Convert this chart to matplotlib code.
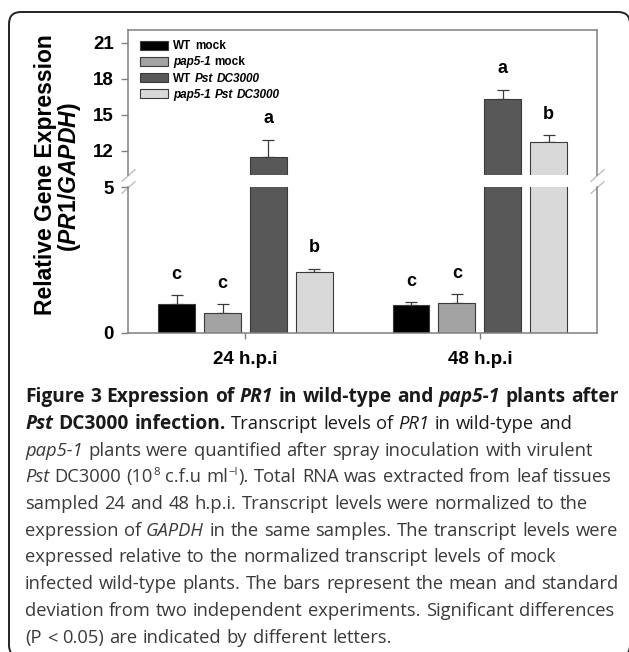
import re
import numpy as np
import matplotlib.pyplot as plt
from matplotlib.patches import FancyBboxPatch, Rectangle
from matplotlib.transforms import IdentityTransform

# data
groups = ['24 h.p.i', '48 h.p.i']
series = ['WT mock', 'pap5-1 mock', 'WT Pst DC3000', 'pap5-1 Pst DC3000']
wt_mock = [1.00, 0.95]
pap_mock = [0.68, 1.03]
wt_pst = [11.48, 16.28]
pap_pst = [2.10, 12.72]
wt_mock_sd = [0.28, 0.09]
pap_mock_sd = [0.30, 0.29]
wt_pst_sd = [1.41, 0.80]
pap_pst_sd = [0.10, 0.58]
letters_24 = ['c', 'c', 'a', 'b']
letters_48 = ['c', 'c', 'a', 'b']
upper_ticks = [12, 15, 18, 21]
lower_ticks = [0, 5]

means = [wt_mock, pap_mock, wt_pst, pap_pst]
sds = [wt_mock_sd, pap_mock_sd, wt_pst_sd, pap_pst_sd]
letters = [letters_24, letters_48]
colors = ['#000000', '#a3a3a3', '#585858', '#d9d9d9']
# legend labels with italic parts
legend_runs = [
    [('WT mock', 'b')],
    [('pap5-1', 'bi'), (' mock', 'b')],
    [('WT ', 'b'), ('Pst DC3000', 'bi')],
    [('pap5-1 Pst DC3000', 'bi')],
]

plt.rcParams['font.family'] = 'Liberation Sans'
plt.rcParams['font.weight'] = 'bold'
plt.rcParams['mathtext.fontset'] = 'custom'
plt.rcParams['mathtext.rm'] = 'Liberation Sans:bold'
plt.rcParams['mathtext.it'] = 'Liberation Sans:italic:bold'

W, H = 629, 652
fig = plt.figure(figsize=(W / 100, H / 100), dpi=100)
PX = IdentityTransform()


def rect(x0, y0, x1, y1):
    # pixel box measured from the top-left -> figure fraction
    return [x0 / W, 1 - y1 / H, (x1 - x0) / W, (y1 - y0) / H]


ax_hi = fig.add_axes(rect(128.3, 30, 597, 174.7))
ax_lo = fig.add_axes(rect(128.3, 187, 597, 332.7))

x = np.arange(len(groups))
pitch, width = 0.196, 0.157
edge = '#3a3a3a'
spine_col = '#808080'

for ax in (ax_hi, ax_lo):
    for i in range(len(series)):
        pos = x + (i - 1.5) * pitch
        ax.bar(pos, means[i], width, color=colors[i], edgecolor=edge,
               linewidth=0.8, zorder=2)
        ax.errorbar(pos, means[i], yerr=[np.zeros(len(x)), sds[i]], fmt='none',
                    ecolor=edge, elinewidth=0.9, capsize=4.5, capthick=0.9,
                    zorder=1)
    ax.set_xlim(-0.5, 1.5)
    for s in ax.spines.values():
        s.set_color(spine_col)
        s.set_linewidth(1.1)
    ax.tick_params(axis='y', direction='out', length=5, width=1,
                   color=spine_col, pad=5.5, labelsize=13.5)

ax_hi.set_ylim(10, 22.05)
ax_hi.set_yticks(upper_ticks)
ax_hi.set_xticks([])
ax_hi.spines['bottom'].set_visible(False)

ax_lo.set_ylim(0, 5)
ax_lo.set_yticks(lower_ticks)
ax_lo.spines['top'].set_visible(False)
ax_lo.set_xticks(x, groups)
ax_lo.tick_params(axis='x', direction='out', length=4, width=1,
                  color=spine_col, pad=9, labelsize=13.5)

# significance letters
for i in range(len(series)):
    for j in range(len(groups)):
        top = means[i][j] + sds[i][j]
        ax = ax_hi if top > ax_lo.get_ylim()[1] else ax_lo
        ax.annotate(letters[j][i], (x[j] + (i - 1.5) * pitch, top),
                    xytext=(0, 9), textcoords='offset points',
                    ha='center', va='bottom', fontsize=13, fontweight='bold')

# axis break marks
brk = dict(marker=[(-1, -0.9), (1, 0.9)], markersize=10, linestyle='none',
           color='#c4c4c4', mec='#c4c4c4', mew=1.1, clip_on=False)
ax_hi.plot([0, 1], [0, 0], transform=ax_hi.transAxes, **brk)
ax_lo.plot([0, 1], [1, 1], transform=ax_lo.transAxes, **brk)

# y label
fig.text(45.5 / W, 1 - 175 / H, 'Relative Gene Expression', rotation=90,
         ha='center', va='center', fontsize=16.5, fontweight='bold')
fig.text(69.5 / W, 1 - 177 / H, r'($\mathit{PR1/GAPDH}$)', rotation=90,
         ha='center', va='center', fontsize=16.5, fontweight='bold')

renderer = fig.canvas.get_renderer()


def style_kw(code, family, size):
    kw = dict(family=family, fontsize=size, fontweight='normal', fontstyle='normal')
    if 'b' in code:
        kw['fontweight'] = 'bold'
    if 'i' in code:
        kw['fontstyle'] = 'italic'
    if 's' in code:
        kw['fontsize'] = size * 0.62
    return kw


def text_width(s, kw):
    t = fig.text(0, 0, s, transform=PX, **kw)
    w = t.get_window_extent(renderer).width
    t.remove()
    return w


def draw_runs(x0, y0, runs, family, size, color, bold_size=None):
    # x0, y0: start of baseline in pixels from the top-left of the figure
    cx = x0
    for piece, code in runs:
        sz = bold_size if (bold_size and 'b' in code) else size
        kw = style_kw(code, family, sz)
        space = text_width('n n', kw) - text_width('nn', kw)
        dy = sz * 100 / 72 * 0.42 if 's' in code else 0
        for tok in re.split(r'( )', piece):
            if tok == '':
                continue
            if tok == ' ':
                cx += space
                continue
            t = fig.text(cx, H - y0 + dy, tok, transform=PX, ha='left',
                         va='baseline', color=color, **kw)
            cx += t.get_window_extent(renderer).width + 0.5


# legend drawn by hand (mixed italic labels)
for i, runs in enumerate(legend_runs):
    ry = 45 + i * 16.3
    fig.add_artist(Rectangle((140, H - ry - 4.5), 28, 9, transform=PX,
                             facecolor=colors[i], edgecolor=edge, linewidth=0.8))
    draw_runs(173, ry + 4, runs, 'Liberation Sans', 8.5, 'black')

# outer rounded frame
fig.add_artist(FancyBboxPatch((9, -5), 621, H - 12 + 5, transform=PX,
                              boxstyle='round,pad=0,rounding_size=12',
                              facecolor='none', edgecolor='#222222', linewidth=1.4))

# caption
caption = [
    [('Figure 3 Expression of ', 'b'), ('PR1', 'bi'), (' in wild-type and ', 'b'),
     ('pap5-1', 'bi'), (' plants after', 'b')],
    [('Pst', 'bi'), (' DC3000 infection.', 'b'), (' Transcript levels of ', 'r'),
     ('PR1', 'i'), (' in wild-type and', 'r')],
    [('pap5-1', 'i'), (' plants were quantified after spray inoculation with virulent', 'r')],
    [('Pst', 'i'), (' DC3000 (10', 'r'), ('8', 's'), (' c.f.u ml', 'r'), ('\u2212l', 's'),
     ('). Total RNA was extracted from leaf tissues', 'r')],
    [('sampled 24 and 48 h.p.i. Transcript levels were normalized to the', 'r')],
    [('expression of ', 'r'), ('GAPDH', 'i'), (' in the same samples. The transcript levels were', 'r')],
    [('expressed relative to the normalized transcript levels of mock', 'r')],
    [('infected wild-type plants. The bars represent the mean and standard', 'r')],
    [('deviation from two independent experiments. Significant differences', 'r')],
    [('(P < 0.05) are indicated by different letters.', 'r')],
]
for k, runs in enumerate(caption):
    col = '#1a1a1a' if k < 2 else '#3a3a3a'
    draw_runs(25, 402 + k * 26.75, runs, 'Open Sans', 13.2, col, bold_size=13.8)

fig.savefig('out.png', dpi=100)
